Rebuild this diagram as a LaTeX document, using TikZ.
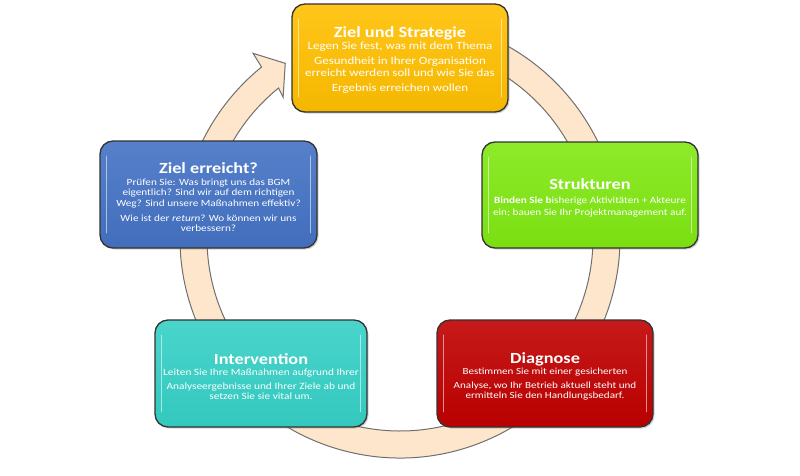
\documentclass[tikz,border=0pt]{standalone}
\usepackage{fontspec}
\setmainfont{Carlito}[FakeStretch=1.18]
\usetikzlibrary{shadows}
\definecolor{ringfill}{HTML}{FDE6CB}
\definecolor{ringline}{HTML}{707070}
\definecolor{cyellow}{HTML}{FFBF00}
\definecolor{cgreen}{HTML}{80E812}
\definecolor{cblue}{HTML}{4472C4}
\definecolor{cteal}{HTML}{35D0C6}
\definecolor{cred}{HTML}{C00000}
\newcommand\stagetitle[1]{{\fontsize{15.5}{17}\selectfont\bfseries #1}}
\newcommand\stageglint[1]{%
  \draw[glint] ([xshift=7pt,yshift=-16pt]#1.north west) -- ([xshift=7pt,yshift=16pt]#1.south west);
  \draw[glint] ([xshift=-7pt,yshift=-16pt]#1.north east) -- ([xshift=-7pt,yshift=16pt]#1.south east);}
\tikzset{
  stage/.style={rounded corners=13pt, draw=black!80, line width=1.3pt, inner sep=0pt,
    drop shadow={shadow xshift=1.5pt,shadow yshift=-1.5pt,opacity=0.35}},
  stagetext/.style={align=center, text=white, inner sep=0pt},
  ring/.style={fill=ringfill, draw=ringline, line width=1pt, line join=miter},
  glint/.style={draw=white, opacity=0.55, line width=1.6pt, line cap=round}
}
\begin{document}
\begin{tikzpicture}[x=1pt,y=1pt]
\useasboundingbox (0,0) rectangle (800,475);
\fill[white] (0,0) rectangle (800,475);
% circular arrow
\begin{scope}[shift={(400,237)}]
\draw[ring] (75:220pt) arc[start angle=75,end angle=-231,radius=220pt]
  -- (128.5:236pt) -- (123.3:209pt) -- (129.7:183pt)
  -- (-231:193pt) arc[start angle=-231,end angle=75,radius=193pt] -- cycle;
\end{scope}
% stage boxes
\node[stage, top color=cyellow!90!white, bottom color=cyellow!96!black,
  minimum width=216pt, minimum height=108pt] (zs) at (400,417) {};
\node[stage, top color=cgreen!90!white, bottom color=cgreen!96!black,
  minimum width=216pt, minimum height=106pt] (st) at (590,280) {};
\node[stage, top color=cblue!90!white, bottom color=cblue!96!black,
  minimum width=217pt, minimum height=107pt] (ze) at (208.5,280.5) {};
\node[stage, top color=cteal!90!white, bottom color=cteal!96!black,
  minimum width=212pt, minimum height=107pt] (iv) at (261,101.5) {};
\node[stage, top color=cred!90!white, bottom color=cred!96!black,
  minimum width=216pt, minimum height=107pt] (dg) at (545,101.5) {};
\stageglint{zs}
\stageglint{st}
\stageglint{ze}
\stageglint{iv}
\stageglint{dg}
% stage texts
\node[stagetext, font=\fontsize{11}{12}\selectfont] (zs-t) at ([yshift=-2pt]zs.center)
  {\stagetitle{Ziel und Strategie}\\[0pt]
   Legen Sie fest, was mit dem Thema\\[3pt]
   Gesundheit in Ihrer Organisation\\
   erreicht werden soll und wie Sie das\\[3pt]
   Ergebnis erreichen wollen};
\node[stagetext, font=\fontsize{9.5}{12}\selectfont] (st-t) at ([yshift=-2.5pt]st.center)
  {\stagetitle{Strukturen}\\[2pt]
   \textbf{Binden Sie b}isherige Aktivitäten + Akteure\\
   ein; bauen Sie Ihr Projektmanagement auf.};
\node[stagetext, font=\fontsize{9.5}{10.5}\selectfont] (ze-t) at ([yshift=-3pt]ze.center)
  {\stagetitle{Ziel erreicht?}\\[1pt]
   Prüfen Sie: Was bringt uns das BGM\\
   eigentlich? Sind wir auf dem richtigen\\
   Weg? Sind unsere Maßnahmen effektiv?\\[4.5pt]
   Wie ist der \textit{return}? Wo können wir uns\\
   verbessern?};
\node[stagetext, font=\fontsize{9.6}{10}\selectfont] (iv-t) at ([yshift=-3pt]iv.center)
  {\stagetitle{Intervention}\\[1pt]
   Leiten Sie Ihre Maßnahmen aufgrund Ihrer\\[4pt]
   Analyseergebnisse und Ihrer Ziele ab und\\
   setzen Sie sie vital um.};
\node[stagetext, font=\fontsize{9.4}{10}\selectfont] (dg-t) at ([yshift=-3pt]dg.center)
  {\stagetitle{Diagnose}\\[1pt]
   Bestimmen Sie mit einer gesicherten\\[4pt]
   Analyse, wo Ihr Betrieb aktuell steht und\\
   ermitteln Sie den Handlungsbedarf.};
\end{tikzpicture}
\end{document}
